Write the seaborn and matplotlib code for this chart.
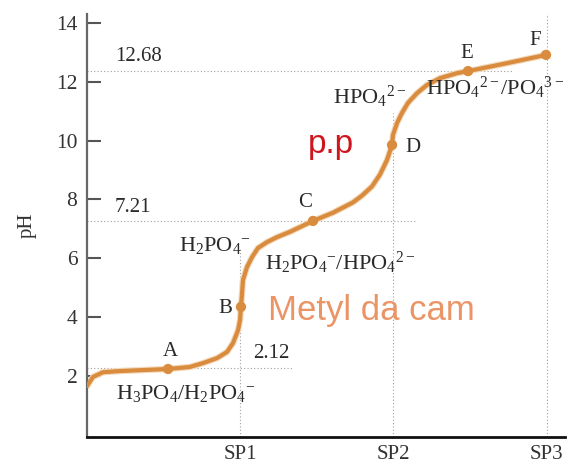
import matplotlib
matplotlib.use("Agg")
import matplotlib.pyplot as plt
import seaborn as sns
import pandas as pd

# ---- data ----
curve_x = [0.00, 0.039, 0.104, 0.215, 0.392, 0.529, 0.672, 0.757, 0.849, 0.914, 0.953,
           0.986, 0.999, 1.005, 1.012, 1.018, 1.044, 1.077, 1.116, 1.175, 1.24, 1.325,
           1.39, 1.475, 1.606, 1.736, 1.795, 1.86, 1.913, 1.958, 1.991, 1.997, 2.024,
           2.056, 2.095, 2.154, 2.219, 2.304, 2.415, 2.487, 2.742, 2.996]
curve_ph = [1.66, 1.97, 2.13, 2.17, 2.21, 2.24, 2.31, 2.44, 2.61, 2.82, 3.12,
            3.56, 3.90, 4.35, 4.82, 5.26, 5.70, 6.04, 6.35, 6.55, 6.72, 6.90,
            7.06, 7.27, 7.55, 7.90, 8.13, 8.44, 8.85, 9.34, 9.85, 10.19, 10.60,
            10.94, 11.28, 11.61, 11.89, 12.12, 12.29, 12.36, 12.63, 12.91]
point_names = ["A", "B", "C", "D", "E", "F"]
point_x = [0.529, 1.005, 1.475, 1.991, 2.487, 2.996]
point_ph = [2.24, 4.35, 7.27, 9.85, 12.36, 12.91]
sp_x = [1, 2, 3]
sp_labels = ["SP1", "SP2", "SP3"]
y_ticks = [2, 4, 6, 8, 10, 12, 14]
pka_labels = ["2.12", "7.21", "12.68"]

sns.set_theme(style="white")
plt.rcParams["font.family"] = ["Liberation Serif", "DejaVu Serif"]
plt.rcParams["mathtext.fontset"] = "custom"
plt.rcParams["mathtext.rm"] = "Liberation Serif"
plt.rcParams["mathtext.it"] = "Liberation Serif:italic"
plt.rcParams["mathtext.bf"] = "Liberation Serif:bold"

fig = plt.figure(figsize=(5.73, 4.71), dpi=100)
ax = fig.add_axes([87/573, 1-437/471, 478/573, 423/471])

curve_color = "#d98b3e"
dot_c = "#a0a0a0"
dot_ls = (0, (1, 2))
dot_lw = 0.8

# dotted guides
ax.plot([0, 1.345], [2.27, 2.27], color=dot_c, ls=dot_ls, lw=dot_lw, zorder=1)
ax.plot([0, 2.14], [point_ph[2], point_ph[2]], color=dot_c, ls=dot_ls, lw=dot_lw, zorder=1)
ax.plot([0, 2.78], [point_ph[4], point_ph[4]], color=dot_c, ls=dot_ls, lw=dot_lw, zorder=1)
ax.plot([sp_x[0], sp_x[0]], [-0.07, 6.3], color=dot_c, ls=dot_ls, lw=dot_lw, zorder=1)
ax.plot([sp_x[1], sp_x[1]], [-0.07, 10.93], color=dot_c, ls=dot_ls, lw=dot_lw, zorder=1)
ax.plot([sp_x[2], sp_x[2]], [-0.07, 14.33], color=dot_c, ls=dot_ls, lw=dot_lw, zorder=1)

df = pd.DataFrame({"x": curve_x, "pH": curve_ph})
sns.lineplot(data=df, x="x", y="pH", ax=ax, color="#f4d9bb", lw=4.6, sort=False, zorder=2,
             solid_joinstyle="round", solid_capstyle="round")
sns.lineplot(data=df, x="x", y="pH", ax=ax, color=curve_color, lw=3.0, sort=False, zorder=3,
             solid_joinstyle="round", solid_capstyle="round")
pts = pd.DataFrame({"x": point_x, "pH": point_ph, "n": point_names})
sns.scatterplot(data=pts, x="x", y="pH", ax=ax, color=curve_color, s=55,
                edgecolor="none", zorder=4)

ax.set_xlim(0, 3.12)
ax.set_ylim(-0.07, 14.3)
ax.set_yticks(y_ticks)
ax.set_yticklabels([str(t) for t in y_ticks])
ax.set_xticks(sp_x)
ax.set_xticklabels(sp_labels)
ax.tick_params(axis="y", direction="in", length=10, width=1.5, color="#555555",
               labelsize=15.5, labelcolor="#333333", pad=7, left=True)
ax.tick_params(axis="x", length=0, labelsize=15, labelcolor="#333333", pad=6)
ax.set_xlabel("")
ax.set_ylabel("pH", fontsize=15, color="#333333")
ax.yaxis.set_label_coords(-0.105, 0.50)

for s in ["top", "right"]:
    ax.spines[s].set_visible(False)
ax.spines["left"].set_color("#666666")
ax.spines["left"].set_linewidth(1.6)
ax.spines["bottom"].set_color("#111111")
ax.spines["bottom"].set_linewidth(2.0)

tc = "#2a2a2a"
# pKa labels
ax.text(0.183, 12.84, pka_labels[2], fontsize=15, color=tc, ha="left", va="center")
ax.text(0.183, 7.74, pka_labels[1], fontsize=15, color=tc, ha="left", va="center")
ax.text(1.084, 2.75, pka_labels[0], fontsize=15, color=tc, ha="left", va="center")

# point letters
letter_pos = [(0.542, 2.82), (0.90, 4.31), (1.423, 7.88), (2.128, 9.78), (2.48, 12.97), (2.924, 13.41)]
for n, (lx, ly) in zip(point_names, letter_pos):
    ax.text(lx, ly, n, fontsize=15, color=tc, ha="center", va="center")

# species labels
fs = 16
ax.text(0.646, 1.42, r"$\mathregular{H_3PO_4/H_2PO_4{}^{-}}$", fontsize=fs, color=tc, ha="center", va="center")
ax.text(0.836, 6.45, r"$\mathregular{H_2PO_4{}^{-}}$", fontsize=fs, color=tc, ha="center", va="center")
ax.text(1.651, 5.84, r"$\mathregular{H_2PO_4{}^{-}/HPO_4{}^{2-}}$", fontsize=fs, color=tc, ha="center", va="center")
ax.text(1.847, 11.48, r"$\mathregular{HPO_4{}^{2-}}$", fontsize=fs, color=tc, ha="center", va="center")
ax.text(2.663, 11.78, r"$\mathregular{HPO_4{}^{2-}/PO_4{}^{3-}}$", fontsize=fs, color=tc, ha="center", va="center")

# indicators
ax.text(1.854, 4.24, "Metyl da cam", fontsize=25, color="#eb9466", ha="center", va="center",
        family=["Liberation Sans", "DejaVu Sans"])
ax.text(1.593, 9.85, "p.p", fontsize=24, color="#d0151f", ha="center", va="center",
        family=["Liberation Sans", "DejaVu Sans"])

fig.savefig("out.png", dpi=100)
